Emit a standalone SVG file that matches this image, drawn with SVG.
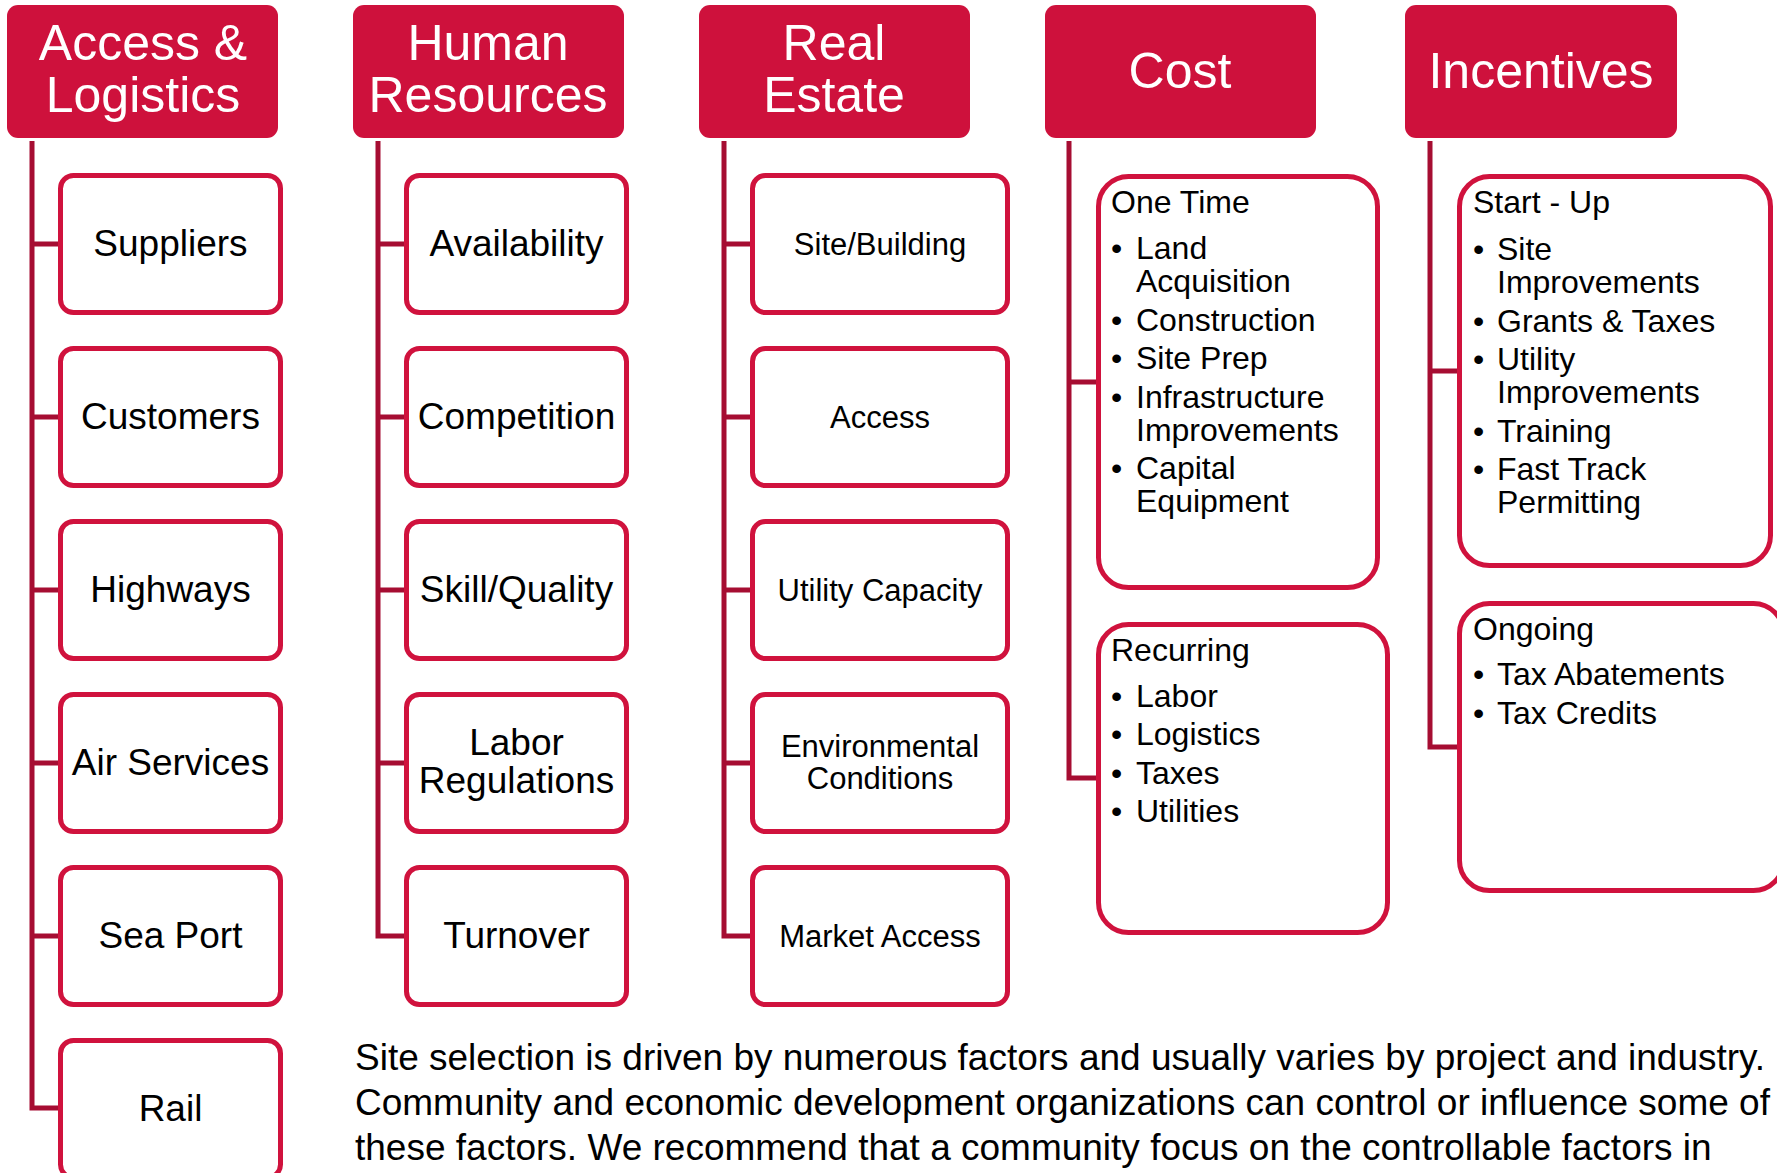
<svg xmlns="http://www.w3.org/2000/svg" width="1777" height="1173" viewBox="0 0 1777 1173">
<style>
.hdr{fill:#CE113C}
.ht{fill:#fff;font-family:"Liberation Sans",Arial,sans-serif;font-size:50px;text-anchor:middle}
.box{fill:#fff;stroke:#D0123D;stroke-width:5}
.ct{fill:#000;font-family:"Liberation Sans",Arial,sans-serif;font-size:37px;text-anchor:middle}
.cs{fill:#000;font-family:"Liberation Sans",Arial,sans-serif;font-size:31px;text-anchor:middle}
.lt{fill:#000;font-family:"Liberation Sans",Arial,sans-serif;font-size:32px}
.para{fill:#000;font-family:"Liberation Sans",Arial,sans-serif;font-size:37px}
.con{fill:none;stroke:#A60D32;stroke-width:5}
</style>
<rect width="1777" height="1173" fill="#fff"/>
<g id="connectors">
<path class="con" d="M32 141V244H60M32 244V417H60M32 417V590H60M32 590V763H60M32 763V936H60M32 936V1108H60"/>
<path class="con" d="M378 141V244H406M378 244V417H406M378 417V590H406M378 590V763H406M378 763V936H406"/>
<path class="con" d="M724 141V244H752M724 244V417H752M724 417V590H752M724 590V763H752M724 763V936H752"/>
<path class="con" d="M1069 141V382H1098M1069 382V778H1098"/>
<path class="con" d="M1430 141V371H1459M1430 371V747H1459"/>
</g>
<g id="h-access">
<rect class="hdr" x="7" y="5" width="271" height="133" rx="11"/>
<text class="ht" x="143" y="60">Access &amp;</text>
<text class="ht" x="143" y="112">Logistics</text>
</g>
<g id="h-hr">
<rect class="hdr" x="353" y="5" width="271" height="133" rx="11"/>
<text class="ht" x="488" y="60">Human</text>
<text class="ht" x="488" y="112">Resources</text>
</g>
<g id="h-re">
<rect class="hdr" x="699" y="5" width="271" height="133" rx="11"/>
<text class="ht" x="834" y="60">Real</text>
<text class="ht" x="834" y="112">Estate</text>
</g>
<g id="h-cost">
<rect class="hdr" x="1045" y="5" width="271" height="133" rx="11"/>
<text class="ht" x="1180" y="88">Cost</text>
</g>
<g id="h-inc">
<rect class="hdr" x="1405" y="5" width="272" height="133" rx="11"/>
<text class="ht" x="1541" y="88">Incentives</text>
</g>
<g id="n-suppliers"><rect class="box" x="60.5" y="175.5" width="220" height="137" rx="13"/><text class="ct" x="170.5" y="256">Suppliers</text></g>
<g id="n-customers"><rect class="box" x="60.5" y="348.5" width="220" height="137" rx="13"/><text class="ct" x="170.5" y="429">Customers</text></g>
<g id="n-highways"><rect class="box" x="60.5" y="521.5" width="220" height="137" rx="13"/><text class="ct" x="170.5" y="602">Highways</text></g>
<g id="n-air"><rect class="box" x="60.5" y="694.5" width="220" height="137" rx="13"/><text class="ct" x="170.5" y="775">Air Services</text></g>
<g id="n-sea"><rect class="box" x="60.5" y="867.5" width="220" height="137" rx="13"/><text class="ct" x="170.5" y="948">Sea Port</text></g>
<g id="n-rail"><rect class="box" x="60.5" y="1040.5" width="220" height="137" rx="13"/><text class="ct" x="170.5" y="1121">Rail</text></g>
<g id="n-avail"><rect class="box" x="406.5" y="175.5" width="220" height="137" rx="13"/><text class="ct" x="516.5" y="256">Availability</text></g>
<g id="n-comp"><rect class="box" x="406.5" y="348.5" width="220" height="137" rx="13"/><text class="ct" x="516.5" y="429">Competition</text></g>
<g id="n-skill"><rect class="box" x="406.5" y="521.5" width="220" height="137" rx="13"/><text class="ct" x="516.5" y="602">Skill/Quality</text></g>
<g id="n-labor"><rect class="box" x="406.5" y="694.5" width="220" height="137" rx="13"/><text class="ct" x="516.5" y="755">Labor</text><text class="ct" x="516.5" y="793">Regulations</text></g>
<g id="n-turnover"><rect class="box" x="406.5" y="867.5" width="220" height="137" rx="13"/><text class="ct" x="516.5" y="948">Turnover</text></g>
<g id="n-site"><rect class="box" x="752.5" y="175.5" width="255" height="137" rx="13"/><text class="cs" x="880" y="255">Site/Building</text></g>
<g id="n-access"><rect class="box" x="752.5" y="348.5" width="255" height="137" rx="13"/><text class="cs" x="880" y="428">Access</text></g>
<g id="n-utility"><rect class="box" x="752.5" y="521.5" width="255" height="137" rx="13"/><text class="cs" x="880" y="601">Utility Capacity</text></g>
<g id="n-env"><rect class="box" x="752.5" y="694.5" width="255" height="137" rx="13"/><text class="cs" x="880" y="757">Environmental</text><text class="cs" x="880" y="789">Conditions</text></g>
<g id="n-market"><rect class="box" x="752.5" y="867.5" width="255" height="137" rx="13"/><text class="cs" x="880" y="947">Market Access</text></g>
<g id="n-onetime">
<rect class="box" x="1098.5" y="176.5" width="279" height="411" rx="30"/>
<text class="lt" x="1111" y="213">One Time</text>
<text class="lt"><tspan x="1111" y="259">•</tspan><tspan x="1136" y="259">Land</tspan><tspan x="1136" y="292">Acquisition</tspan><tspan x="1111" y="331">•</tspan><tspan x="1136" y="331">Construction</tspan><tspan x="1111" y="369">•</tspan><tspan x="1136" y="369">Site Prep</tspan><tspan x="1111" y="408">•</tspan><tspan x="1136" y="408">Infrastructure</tspan><tspan x="1136" y="441">Improvements</tspan><tspan x="1111" y="479">•</tspan><tspan x="1136" y="479">Capital</tspan><tspan x="1136" y="512">Equipment</tspan></text>
</g>
<g id="n-recurring">
<rect class="box" x="1098.5" y="624.5" width="289" height="308" rx="30"/>
<text class="lt" x="1111" y="661">Recurring</text>
<text class="lt"><tspan x="1111" y="707">•</tspan><tspan x="1136" y="707">Labor</tspan><tspan x="1111" y="745">•</tspan><tspan x="1136" y="745">Logistics</tspan><tspan x="1111" y="784">•</tspan><tspan x="1136" y="784">Taxes</tspan><tspan x="1111" y="822">•</tspan><tspan x="1136" y="822">Utilities</tspan></text>
</g>
<g id="n-startup">
<rect class="box" x="1459.5" y="176.5" width="311" height="389" rx="30"/>
<text class="lt" x="1473" y="213">Start - Up</text>
<text class="lt"><tspan x="1473" y="260">•</tspan><tspan x="1497" y="260">Site</tspan><tspan x="1497" y="293">Improvements</tspan><tspan x="1473" y="332">•</tspan><tspan x="1497" y="332">Grants &amp; Taxes</tspan><tspan x="1473" y="370">•</tspan><tspan x="1497" y="370">Utility</tspan><tspan x="1497" y="403">Improvements</tspan><tspan x="1473" y="442">•</tspan><tspan x="1497" y="442">Training</tspan><tspan x="1473" y="480">•</tspan><tspan x="1497" y="480">Fast Track</tspan><tspan x="1497" y="513">Permitting</tspan></text>
</g>
<g id="n-ongoing">
<rect class="box" x="1459.5" y="603.5" width="324" height="287" rx="30"/>
<text class="lt" x="1473" y="640">Ongoing</text>
<text class="lt"><tspan x="1473" y="685">•</tspan><tspan x="1497" y="685">Tax Abatements</tspan><tspan x="1473" y="724">•</tspan><tspan x="1497" y="724">Tax Credits</tspan></text>
</g>
<g id="paragraph">
<text class="para" x="355" y="1070">Site selection is driven by numerous factors and usually varies by project and industry.</text>
<text class="para" x="355" y="1115">Community and economic development organizations can control or influence some of</text>
<text class="para" x="355" y="1160">these factors. We recommend that a community focus on the controllable factors in</text>
</g>
</svg>
